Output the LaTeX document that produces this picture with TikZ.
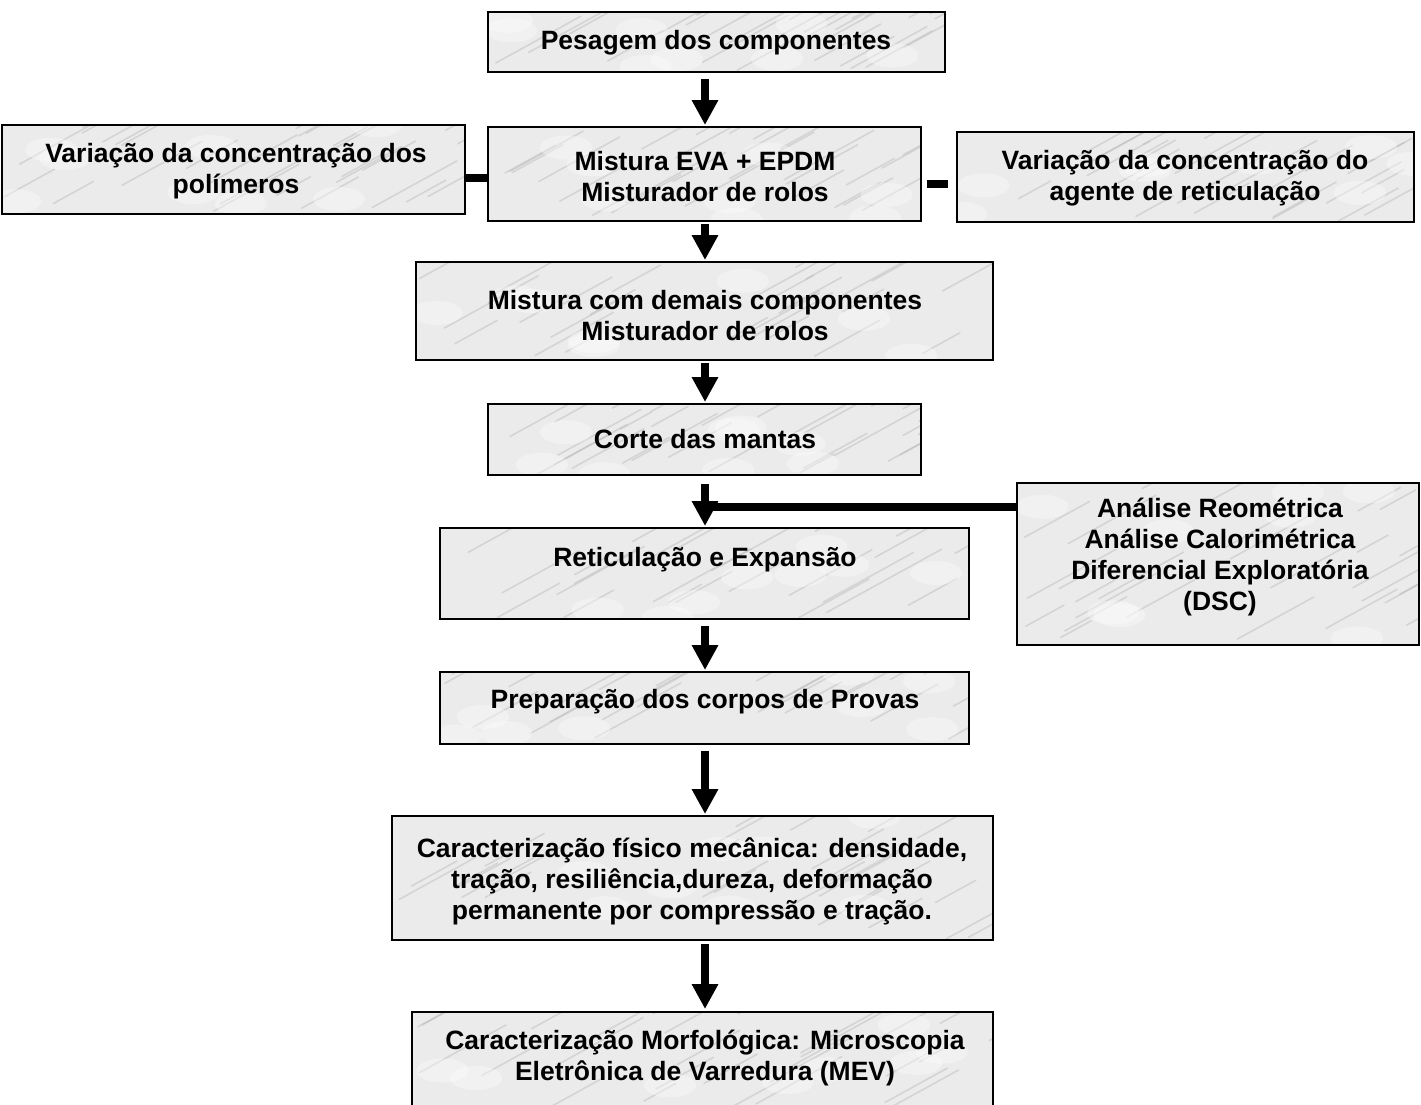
\documentclass[tikz,border=0pt]{standalone}
\usepackage{fontspec}
\setmainfont{Liberation Sans}
\usetikzlibrary{arrows.meta,calc}
\begin{document}
\begin{tikzpicture}[x=1pt,y=-1pt,
  marble/.style={draw=black, line width=2pt, fill=gray!16, rectangle, inner sep=0pt,
    path picture={
      \pgfmathsetseed{#1}
      \foreach \k in {1,...,28}{
        \pgfmathsetmacro\rx{rnd}\pgfmathsetmacro\ry{rnd}\pgfmathsetmacro\rl{30+60*rnd}
        \path ($(path picture bounding box.south west)!\rx!(path picture bounding box.south east)$) coordinate (px);
        \path ($(path picture bounding box.south west)!\ry!(path picture bounding box.north west)$) coordinate (py);
        \draw[gray!60, line width=1.6pt, opacity=0.4, line cap=round] (px |- py) -- ++(\rl,-0.55*\rl);
      }
      \foreach \k in {1,...,8}{
        \pgfmathsetmacro\rx{rnd}\pgfmathsetmacro\ry{rnd}
        \path ($(path picture bounding box.south west)!\rx!(path picture bounding box.south east)$) coordinate (px);
        \path ($(path picture bounding box.south west)!\ry!(path picture bounding box.north west)$) coordinate (py);
        \fill[white, opacity=0.35] (px |- py) ellipse (26 and 12);
      }
    }},
  marble/.default=3,
  txt/.style={font=\fontsize{26.5}{31}\selectfont\bfseries, align=center, inner sep=0pt},
  flow/.style={line width=8pt, -{Triangle[length=25pt,width=25pt]}},
  bar/.style={line width=8pt}
]
\useasboundingbox (0,0) rectangle (1421,1104);
\fill[white] (0,0) rectangle (1421,1104);

% boxes
\node[marble=3, minimum width=457, minimum height=60] (P) at (716.5,42) {};
\node[marble=5, minimum width=433, minimum height=94] (M) at (704.5,174) {};
\node[marble=7, minimum width=463, minimum height=89] (L) at (233.5,169.5) {};
\node[marble=9, minimum width=457, minimum height=90] (R) at (1185.5,177) {};
\node[marble=11, minimum width=577, minimum height=98] (D) at (704.5,311) {};
\node[marble=13, minimum width=433, minimum height=71] (C) at (704.5,439.5) {};
\node[marble=15, minimum width=529, minimum height=91] (Re) at (704.5,573.5) {};
\node[marble=17, minimum width=402, minimum height=162] (A) at (1218,564) {};
\node[marble=19, minimum width=529, minimum height=72] (Pr) at (704.5,708) {};
\node[marble=21, minimum width=601, minimum height=124] (F) at (692.5,878) {};
\node[marble=23, minimum width=581, minimum height=98] (Mo) at (702.5,1061) {};

% texts
\node[txt] (tP) at (716,43) {Pesagem dos componentes};
\node[txt] (tM) at (705,176.5) {Mistura EVA + EPDM\\Misturador de rolos};
\node[txt] (tL) at (236,171.5) {Variação da concentração dos\\polímeros};
\node[txt] (tR) at (1185,178.5) {Variação da concentração do\\agente de reticulação};
\node[txt] (tD) at (705,315.5) {Mistura com demais componentes\\Misturador de rolos};
\node[txt] (tC) at (705,439) {Corte das mantas};
\node[txt] (tRe) at (705,560) {Reticulação e Expansão};
\node[txt] (tA) at (1220,557.5) {Análise Reométrica\\Análise Calorimétrica\\Diferencial Exploratória\\(DSC)};
\node[txt] (tPr) at (705,702) {Preparação dos corpos de Provas};
\node[txt] (tF) at (692,881) {Caracterização físico mecânica: densidade,\\tração, resiliência,dureza, deformação\\permanente por compressão e tração.};
\node[txt] (tMo) at (705,1058.5) {Caracterização Morfológica: Microscopia\\Eletrônica de Varredura (MEV)};

% connectors
\coordinate (ax) at (705,0);
\draw[flow] ($(ax |- P.south)+(0,6)$) -- ($(ax |- M.north)+(0,-1)$);
\draw[flow] ($(ax |- M.south)+(0,2)$) -- ($(ax |- D.north)+(0,-1)$);
\draw[flow] ($(ax |- D.south)+(0,2)$) -- ($(ax |- C.north)+(0,-1)$);
\draw[flow] ($(ax |- C.south)+(0,8)$) -- ($(ax |- Re.north)+(0,-1)$);
\draw[flow] ($(ax |- Re.south)+(0,6)$) -- ($(ax |- Pr.north)+(0,-1)$);
\draw[flow] ($(ax |- Pr.south)+(0,6)$) -- ($(ax |- F.north)+(0,-1)$);
\draw[flow] ($(ax |- F.south)+(0,3)$) -- ($(ax |- Mo.north)+(0,-2)$);

\coordinate (yl) at (0,178);
\draw[bar] (L.east |- yl) -- (M.west |- yl);
\coordinate (yr) at (0,184);
\draw[bar] ($(M.east |- yr)+(5,0)$) -- ($(R.west |- yr)+(-8,0)$);
\coordinate (yj) at (0,507);
\draw[bar] ($(ax |- yj)+(-4,0)$) -- (A.west |- yj);
\end{tikzpicture}
\end{document}
